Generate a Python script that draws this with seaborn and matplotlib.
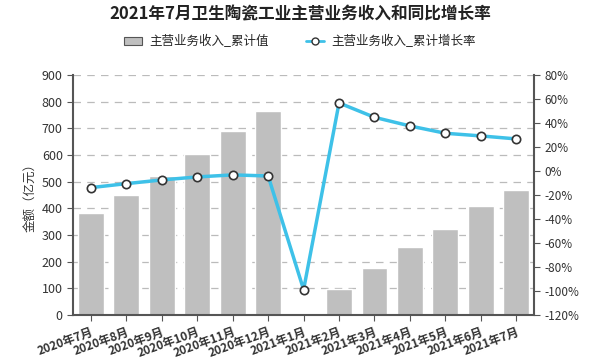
import matplotlib
matplotlib.use("Agg")
import matplotlib.pyplot as plt
import seaborn as sns
import pandas as pd
import numpy as np
from matplotlib.ticker import FuncFormatter, MultipleLocator

sns.set_style("white")
plt.rcParams['font.family'] = ['Noto Sans CJK SC', 'DejaVu Sans']
plt.rcParams['axes.unicode_minus'] = False

categories = ["2020年7月", "2020年8月", "2020年9月", "2020年10月", "2020年11月", "2020年12月",
              "2021年1月", "2021年2月", "2021年3月", "2021年4月", "2021年5月", "2021年6月", "2021年7月"]
revenue = [382, 450, 522, 602, 690, 766, 0, 97, 176, 255, 322, 409, 469]
growth = [-13.9, -10.6, -7.5, -5.0, -3.3, -4.2, -99.0, 56.7, 44.7, 37.5, 31.4, 29.2, 26.7]

df = pd.DataFrame({"月份": categories, "累计值": revenue, "增长率": growth})

fig = plt.figure(figsize=(6.0, 3.64), dpi=100)
ax = fig.add_axes([0.122, 0.135, 0.768, 0.659])

sns.barplot(data=df, x="月份", y="累计值", color="#BFBFBF", width=0.73, ax=ax,
            saturation=1, zorder=2)
ax.set_ylim(0, 900)
ax.yaxis.set_major_locator(MultipleLocator(100))
ax.grid(axis="y", color="#BBBBBB", linestyle=(0, (6, 5)), linewidth=0.9, zorder=0)
ax.set_axisbelow(True)
ax.set_xlim(-0.5, len(categories) - 0.5)
ax.set_xlabel("")
ax.set_ylabel("金额（亿元）", fontsize=9, color="#333333")
for s in ["top", "right"]:
    ax.spines[s].set_visible(False)
ax.spines["left"].set_color("#555555")
ax.spines["bottom"].set_color("#555555")
ax.spines["left"].set_linewidth(1.5)
ax.spines["bottom"].set_linewidth(1.5)
ax.tick_params(axis="y", left=True, length=4, color="#555555", labelsize=9, labelcolor="#333333")
ax.tick_params(axis="x", bottom=True, length=4, color="#555555", labelsize=8.5, labelcolor="#333333")
plt.setp(ax.get_xticklabels(), rotation=20, ha="right", rotation_mode="anchor", fontweight="bold")

ax2 = ax.twinx()
sns.lineplot(data=df, x="月份", y="增长率", ax=ax2, color="#3EC1E8", linewidth=2.5,
             marker="o", markersize=6, markerfacecolor="white", markeredgecolor="#333333",
             markeredgewidth=1.2, zorder=5)
ax2.set_ylim(-120, 80)
ax2.yaxis.set_major_locator(MultipleLocator(20))
ax2.yaxis.set_major_formatter(FuncFormatter(lambda v, p: f"{int(round(v))}%"))
ax2.set_ylabel("")
ax2.set_xlim(-0.5, len(categories) - 0.5)
for s in ["top", "left", "bottom"]:
    ax2.spines[s].set_visible(False)
ax2.spines["right"].set_color("#555555")
ax2.spines["right"].set_linewidth(1.5)
ax2.tick_params(axis="y", right=True, length=4, color="#555555", labelsize=8.5, labelcolor="#333333")

fig.suptitle("2021年7月卫生陶瓷工业主营业务收入和同比增长率", y=0.985, fontsize=12,
             fontweight="bold", color="#222222")

from matplotlib.patches import Patch
from matplotlib.lines import Line2D
handles = [Patch(facecolor="#BFBFBF", edgecolor="#555555", linewidth=0.8),
           Line2D([], [], color="#3EC1E8", linewidth=2, marker="o", markersize=5,
                  markerfacecolor="white", markeredgecolor="#333333")]
fig.legend(handles, ["主营业务收入_累计值", "主营业务收入_累计增长率"], loc="center",
           bbox_to_anchor=(0.5, 0.885), ncol=2, frameon=False, fontsize=9,
           handlelength=1.4, columnspacing=3, handletextpad=0.6)

fig.savefig("out.png", dpi=100)
